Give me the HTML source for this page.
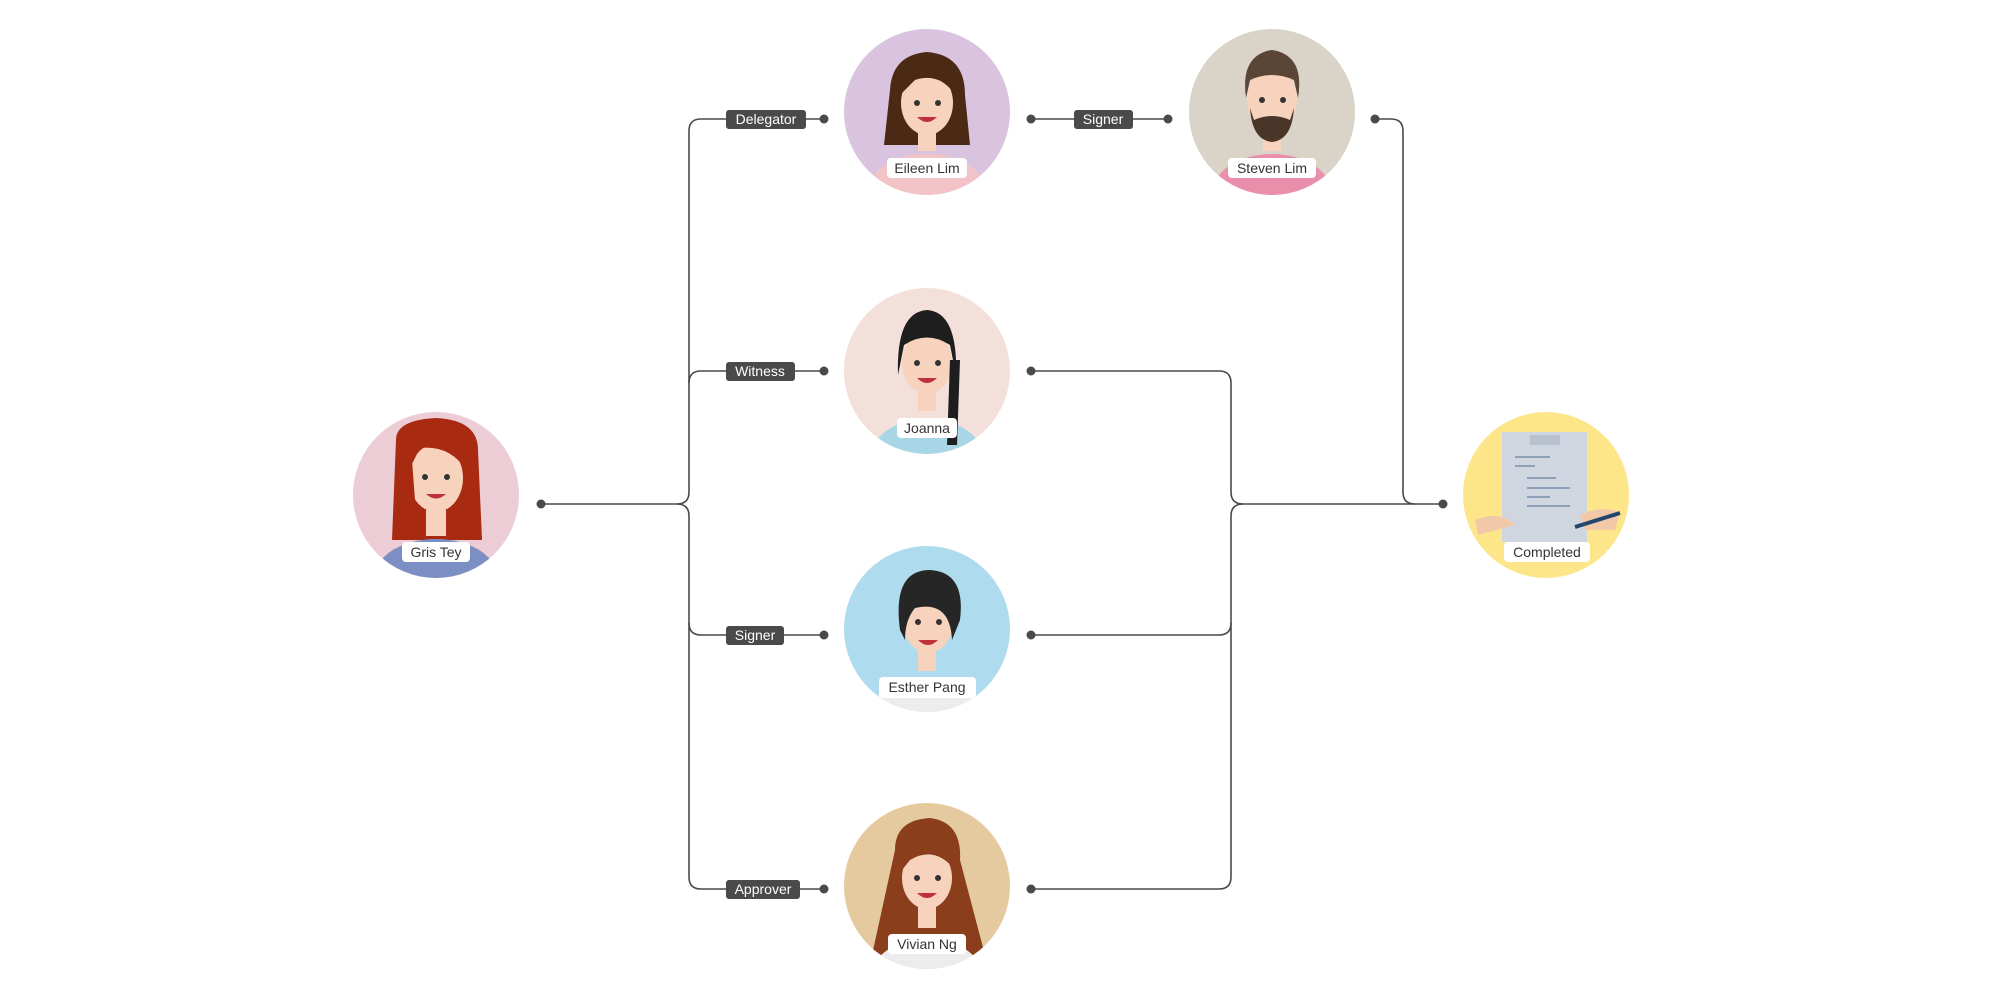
<!DOCTYPE html>
<html><head><meta charset="utf-8"><style>
html,body{margin:0;padding:0;background:#fff;}
svg{display:block;font-family:"Liberation Sans",sans-serif;}
.ln{fill:none;stroke:#4a4a4a;stroke-width:1.6;}
.lb{fill:#4a4a4a;}
.lt{fill:#fff;font-size:14px;}
.nm{fill:#fff;}
.nt{fill:#333;font-size:14px;}
.skin{fill:#f7d3bd;}
</style></head><body>
<svg width="2000" height="1000" viewBox="0 0 2000 1000">
<defs>
<clipPath id="c1"><circle cx="436" cy="495" r="83"/></clipPath>
<clipPath id="c2"><circle cx="927" cy="112" r="83"/></clipPath>
<clipPath id="c3"><circle cx="927" cy="371" r="83"/></clipPath>
<clipPath id="c4"><circle cx="927" cy="629" r="83"/></clipPath>
<clipPath id="c5"><circle cx="927" cy="886" r="83"/></clipPath>
<clipPath id="c6"><circle cx="1272" cy="112" r="83"/></clipPath>
<clipPath id="c7"><circle cx="1546" cy="495" r="83"/></clipPath>
</defs>

<path class="ln" d="M541 504 H677 Q689 504 689 492 V131 Q689 119 701 119 H824"/>
<path class="ln" d="M677 504 Q689 504 689 516 V877 Q689 889 701 889 H824"/>
<path class="ln" d="M689 383 Q689 371 701 371 H824"/>
<path class="ln" d="M689 623 Q689 635 701 635 H824"/>
<path class="ln" d="M1031 119 H1168"/>
<path class="ln" d="M1031 371 H1219 Q1231 371 1231 383 V492 Q1231 504 1243 504 H1443"/>
<path class="ln" d="M1243 504 Q1231 504 1231 516 V877 Q1231 889 1219 889 H1031"/>
<path class="ln" d="M1031 635 H1219 Q1231 635 1231 623"/>
<path class="ln" d="M1375 119 H1391 Q1403 119 1403 131 V492 Q1403 504 1415 504"/>
<g fill="#4a4a4a">
<circle cx="541" cy="504" r="4.5"/><circle cx="824" cy="119" r="4.5"/><circle cx="824" cy="371" r="4.5"/>
<circle cx="824" cy="635" r="4.5"/><circle cx="824" cy="889" r="4.5"/><circle cx="1031" cy="119" r="4.5"/>
<circle cx="1168" cy="119" r="4.5"/><circle cx="1031" cy="371" r="4.5"/><circle cx="1031" cy="635" r="4.5"/>
<circle cx="1031" cy="889" r="4.5"/><circle cx="1375" cy="119" r="4.5"/><circle cx="1443" cy="504" r="4.5"/>
</g>
<rect class="lb" x="726" y="110" width="80" height="19" rx="3"/><text class="lt" x="766" y="124" text-anchor="middle">Delegator</text>
<rect class="lb" x="726" y="362" width="69" height="19" rx="3"/><text class="lt" x="760" y="376" text-anchor="middle">Witness</text>
<rect class="lb" x="726" y="626" width="58" height="19" rx="3"/><text class="lt" x="755" y="640" text-anchor="middle">Signer</text>
<rect class="lb" x="726" y="880" width="74" height="19" rx="3"/><text class="lt" x="763" y="894" text-anchor="middle">Approver</text>
<rect class="lb" x="1074" y="110" width="59" height="19" rx="3"/><text class="lt" x="1103" y="124" text-anchor="middle">Signer</text>

<circle cx="436" cy="495" r="83" fill="#ecccd5"/>
<g clip-path="url(#c1)">
<path d="M396 440 Q396 420 436 418 Q478 420 478 450 L482 540 L392 540 Z" fill="#a82a10"/>
<ellipse cx="436" cy="575" rx="60" ry="36" fill="#7c8fc4"/>
<rect x="426" y="510" width="20" height="26" class="skin"/>
<ellipse cx="436" cy="478" rx="27" ry="34" class="skin"/>
<path d="M409 470 Q410 428 440 430 Q470 432 466 470 Q450 445 420 448 Z" fill="#a82a10"/>
<path d="M403 460 L408 540 L418 540 L412 460Z M468 460 L466 540 L476 540 L474 460Z" fill="#a82a10"/>
<circle cx="425" cy="477" r="3" fill="#333"/><circle cx="447" cy="477" r="3" fill="#333"/>
<path d="M426 494 Q436 503 446 494 Z" fill="#c0303a"/>
</g>
<rect class="nm" x="402" y="542" width="68" height="20" rx="4"/><text class="nt" x="436" y="557" text-anchor="middle">Gris Tey</text>

<circle cx="927" cy="112" r="83" fill="#d9c3df"/>
<g clip-path="url(#c2)">
<path d="M890 90 Q892 55 927 52 Q965 55 965 95 L970 145 L884 145Z" fill="#4a2a14"/>
<ellipse cx="927" cy="190" rx="58" ry="36" fill="#f2c4c8"/>
<rect x="918" y="125" width="18" height="26" class="skin"/>
<ellipse cx="927" cy="103" rx="26" ry="32" class="skin"/>
<path d="M900 95 Q905 62 930 62 Q957 64 955 95 Q940 72 915 80Z" fill="#4a2a14"/>
<circle cx="917" cy="103" r="3" fill="#333"/><circle cx="938" cy="103" r="3" fill="#333"/>
<path d="M917 117 Q927 127 937 117Z" fill="#c0303a"/>
</g>
<rect class="nm" x="887" y="158" width="80" height="20" rx="4"/><text class="nt" x="927" y="173" text-anchor="middle">Eileen Lim</text>

<circle cx="927" cy="371" r="83" fill="#f4e0da"/>
<g clip-path="url(#c3)">
<ellipse cx="927" cy="455" rx="55" ry="36" fill="#a9d6e6"/>
<rect x="918" y="385" width="18" height="26" class="skin"/>
<ellipse cx="927" cy="363" rx="25" ry="31" class="skin"/>
<path d="M898 375 Q896 312 927 310 Q958 312 956 375 L950 345 Q927 330 904 345Z" fill="#1e1e1e"/>
<path d="M950 360 L960 360 L957 445 L947 445Z" fill="#1e1e1e"/>
<circle cx="917" cy="363" r="3" fill="#333"/><circle cx="938" cy="363" r="3" fill="#333"/>
<path d="M917 378 Q927 388 937 378Z" fill="#c0303a"/>
</g>
<rect class="nm" x="897" y="418" width="60" height="20" rx="4"/><text class="nt" x="927" y="433" text-anchor="middle">Joanna</text>

<circle cx="927" cy="629" r="83" fill="#aedcee"/>
<g clip-path="url(#c4)">
<ellipse cx="927" cy="715" rx="58" ry="36" fill="#ececec"/>
<rect x="918" y="645" width="18" height="26" class="skin"/>
<ellipse cx="928" cy="622" rx="25" ry="31" class="skin"/>
<path d="M900 630 Q892 570 930 570 Q966 572 960 620 L952 640 Q950 600 915 608 Q905 620 905 640Z" fill="#262626"/>
<circle cx="918" cy="622" r="3" fill="#333"/><circle cx="939" cy="622" r="3" fill="#333"/>
<path d="M918 640 Q928 650 938 640Z" fill="#c0303a"/>
</g>
<rect class="nm" x="879" y="677" width="97" height="21" rx="4"/><text class="nt" x="927" y="692" text-anchor="middle">Esther Pang</text>

<circle cx="927" cy="886" r="83" fill="#e5ca9f"/>
<g clip-path="url(#c5)">
<path d="M895 850 Q895 820 930 818 Q962 822 960 860 L985 955 L872 955Z" fill="#8a3e1c"/>
<ellipse cx="927" cy="975" rx="55" ry="36" fill="#ececec"/>
<rect x="918" y="902" width="18" height="26" class="skin"/>
<ellipse cx="927" cy="878" rx="25" ry="31" class="skin"/>
<path d="M902 870 Q905 830 935 832 Q958 840 955 870 Q935 845 910 860Z" fill="#8a3e1c"/>
<circle cx="917" cy="878" r="3" fill="#333"/><circle cx="938" cy="878" r="3" fill="#333"/>
<path d="M917 893 Q927 903 937 893Z" fill="#c0303a"/>
</g>
<rect class="nm" x="888" y="934" width="78" height="20" rx="4"/><text class="nt" x="927" y="949" text-anchor="middle">Vivian Ng</text>

<circle cx="1272" cy="112" r="83" fill="#d9d3c8"/>
<g clip-path="url(#c6)">
<ellipse cx="1272" cy="190" rx="58" ry="36" fill="#ea8fab"/>
<rect x="1263" y="125" width="18" height="26" class="skin"/>
<ellipse cx="1272" cy="100" rx="25" ry="32" class="skin"/>
<path d="M1246 98 Q1240 55 1272 50 Q1305 55 1298 98 L1294 80 Q1272 70 1250 80Z" fill="#5a4536"/>
<path d="M1250 108 Q1252 140 1272 142 Q1292 140 1294 108 L1290 120 Q1272 112 1254 120Z" fill="#4a3628"/>
<circle cx="1262" cy="100" r="3" fill="#333"/><circle cx="1283" cy="100" r="3" fill="#333"/>
</g>
<rect class="nm" x="1228" y="158" width="88" height="20" rx="4"/><text class="nt" x="1272" y="173" text-anchor="middle">Steven Lim</text>

<circle cx="1546" cy="495" r="83" fill="#fde58a"/>
<g clip-path="url(#c7)">
<rect x="1502" y="432" width="85" height="110" fill="#cfd6e0"/>
<rect x="1530" y="435" width="30" height="10" fill="#b8c2cf"/>
<g stroke="#8ea0b8" stroke-width="2">
<line x1="1515" y1="457" x2="1550" y2="457"/><line x1="1515" y1="466" x2="1535" y2="466"/>
<line x1="1527" y1="478" x2="1556" y2="478"/><line x1="1527" y1="488" x2="1570" y2="488"/>
<line x1="1527" y1="497" x2="1550" y2="497"/><line x1="1527" y1="506" x2="1570" y2="506"/>
</g>
<path d="M1475 520 Q1500 510 1515 525 L1478 535Z" fill="#f2c9a8"/>
<path d="M1580 515 Q1600 505 1620 512 L1615 530 L1585 530Z" fill="#f2c9a8"/>
<line x1="1575" y1="527" x2="1620" y2="513" stroke="#22456e" stroke-width="4"/>
</g>
<rect class="nm" x="1504" y="542" width="86" height="20" rx="4"/><text class="nt" x="1547" y="557" text-anchor="middle">Completed</text>
</svg>
</body></html>
